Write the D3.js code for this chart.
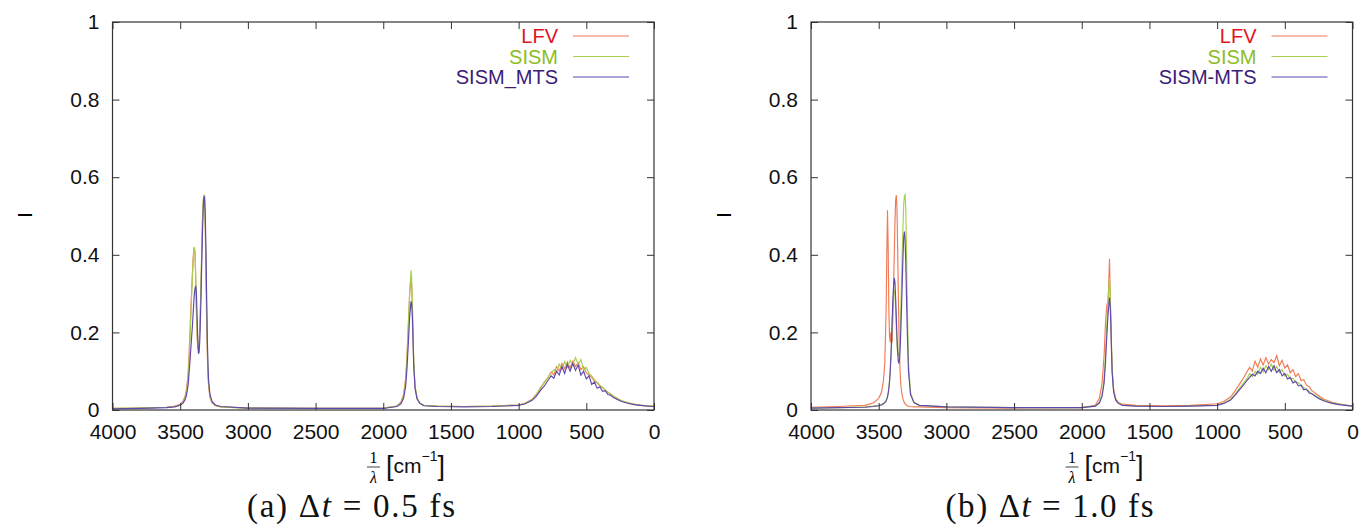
<!DOCTYPE html>
<html>
<head>
<meta charset="utf-8">
<script src="https://d3js.org/d3.v7.min.js"></script>
<style>
    body { margin: 0; background: #fff; }
    svg { display: block; font-family: "Liberation Sans", Arial, Helvetica, sans-serif; }
    .axis text { font-size: 21px; fill: #111; }
    .axis line { stroke: #333; }
    .axis path { display: none; }
</style>
</head>
<body>
<div id="vis"></div>
<script>
// wavenumber grid shared by all curves [cm^-1]
var wavenumbers = [
    4000, 3800, 3600, 3540, 3500, 3480, 3465, 3455, 3445, 3440,
    3435, 3430, 3425, 3420, 3415, 3410, 3405, 3400, 3395, 3390,
    3385, 3380, 3375, 3370, 3365, 3360, 3355, 3350, 3345, 3340,
    3335, 3330, 3325, 3320, 3315, 3310, 3305, 3300, 3295, 3290,
    3280, 3265, 3240, 3200, 3000, 2500, 2000, 1900, 1870, 1850,
    1835, 1825, 1815, 1805, 1795, 1790, 1785, 1780, 1775, 1765,
    1750, 1730, 1700, 1600, 1400, 1200, 1000, 950, 900, 870,
    840, 810, 780, 760, 740, 720, 700, 680, 660, 640,
    620, 600, 580, 560, 540, 520, 500, 480, 460, 440,
    420, 400, 380, 360, 340, 320, 300, 270, 240, 200,
    150, 100, 50, 0];

// (a) dt = 0.5 fs
var lfvA = [
    .004, .005, .007, .010, .015, .022, .035, .050, .080, .105,
    .140, .180, .225, .270, .310, .350, .385, .410, .420, .400,
    .330, .250, .190, .160, .155, .170, .210, .270, .340, .420,
    .490, .535, .553, .540, .470, .360, .240, .150, .090, .060,
    .032, .018, .011, .008, .005, .004, .005, .010, .020, .040,
    .080, .140, .220, .300, .345, .320, .260, .190, .120, .060,
    .030, .018, .012, .010, .009, .010, .013, .018, .028, .040,
    .055, .072, .085, .098, .090, .112, .100, .120, .106, .124,
    .108, .126, .112, .122, .104, .112, .096, .090, .084, .074,
    .070, .062, .058, .050, .046, .040, .035, .028, .024, .019,
    .015, .012, .011, .009];
var sismA = [
    .004, .005, .007, .009, .013, .019, .030, .042, .068, .090,
    .120, .160, .205, .250, .295, .340, .380, .415, .420, .405,
    .340, .260, .200, .165, .160, .175, .215, .275, .350, .425,
    .495, .540, .555, .545, .490, .390, .270, .170, .105, .068,
    .036, .020, .012, .008, .005, .004, .005, .010, .018, .036,
    .070, .125, .210, .300, .360, .340, .280, .200, .130, .062,
    .030, .018, .012, .010, .009, .010, .013, .017, .027, .038,
    .058, .070, .086, .094, .104, .098, .118, .106, .125, .110,
    .128, .116, .135, .118, .130, .102, .110, .094, .088, .078,
    .072, .064, .058, .052, .046, .042, .036, .030, .024, .020,
    .015, .013, .011, .010];
var mtsA = [
    .003, .004, .006, .008, .012, .017, .026, .036, .055, .070,
    .092, .115, .140, .165, .190, .215, .245, .275, .300, .315,
    .318, .300, .240, .180, .145, .150, .180, .240, .310, .390,
    .460, .520, .548, .550, .510, .420, .300, .190, .120, .075,
    .040, .022, .013, .009, .005, .004, .004, .009, .016, .030,
    .060, .105, .170, .240, .280, .275, .240, .180, .115, .055,
    .028, .017, .011, .009, .008, .009, .012, .016, .025, .035,
    .050, .062, .078, .088, .082, .100, .090, .112, .094, .118,
    .100, .120, .102, .116, .090, .100, .080, .088, .066, .072,
    .056, .060, .048, .050, .040, .038, .032, .027, .022, .018,
    .014, .012, .010, .009];

// (b) dt = 1.0 fs
var lfvB = [
    .007, .009, .012, .018, .030, .045, .075, .120, .260, .400,
    .515, .420, .260, .190, .175, .200, .170, .180, .240, .320,
    .400, .480, .540, .554, .520, .420, .300, .200, .130, .085,
    .060, .045, .035, .028, .023, .019, .016, .014, .012, .011,
    .010, .009, .008, .008, .006, .005, .006, .012, .030, .070,
    .140, .220, .270, .280, .390, .300, .230, .160, .100, .055,
    .030, .020, .015, .012, .011, .012, .016, .022, .034, .048,
    .064, .080, .098, .110, .100, .126, .110, .132, .116, .135,
    .118, .130, .122, .140, .114, .128, .108, .116, .096, .104,
    .086, .094, .076, .078, .064, .060, .050, .042, .034, .026,
    .020, .016, .013, .011];
var sismB = [
    .005, .006, .008, .010, .012, .014, .017, .020, .025, .030,
    .036, .045, .058, .075, .100, .135, .180, .230, .270, .300,
    .310, .300, .260, .210, .170, .145, .140, .150, .180, .220,
    .280, .350, .420, .480, .530, .552, .555, .520, .420, .300,
    .120, .045, .020, .012, .008, .006, .006, .010, .020, .040,
    .080, .140, .220, .290, .340, .300, .230, .160, .100, .050,
    .028, .018, .013, .010, .009, .010, .013, .018, .028, .040,
    .054, .068, .080, .094, .086, .100, .092, .110, .098, .114,
    .104, .118, .102, .112, .096, .104, .088, .092, .080, .082,
    .072, .070, .064, .058, .052, .048, .042, .036, .030, .024,
    .018, .015, .012, .010];
var mtsB = [
    .005, .006, .007, .009, .011, .013, .016, .019, .023, .028,
    .033, .042, .055, .072, .098, .135, .180, .235, .285, .320,
    .340, .330, .290, .240, .190, .150, .125, .120, .135, .170,
    .220, .280, .340, .400, .445, .460, .440, .380, .300, .220,
    .100, .040, .019, .012, .008, .006, .006, .010, .018, .035,
    .070, .120, .190, .250, .290, .270, .220, .150, .095, .048,
    .026, .017, .012, .010, .009, .010, .012, .017, .026, .037,
    .050, .062, .076, .084, .092, .088, .100, .094, .108, .096,
    .112, .100, .114, .096, .104, .088, .094, .080, .084, .070,
    .074, .062, .064, .052, .054, .044, .042, .034, .028, .022,
    .017, .014, .012, .010];

var xTicks = [4000, 3500, 3000, 2500, 2000, 1500, 1000, 500, 0];
var yTicks = [0, 0.2, 0.4, 0.6, 0.8, 1];
var legendNames = [["LFV", "SISM", "SISM_MTS"], ["LFV", "SISM", "SISM-MTS"]];
var captionTags = ["(a)", "(b)"];
var timeSteps = ["0.5", "1.0"];

var lineColors = ["#f07a55", "#a8d04e", "#6048ac"];
var textColors = ["#e0141b", "#8cbd25", "#3b1c78"];

var margin = { top: 22, left: 112.5 },
    width = 541.5,
    height = 388,
    panelShift = 698.5;

var svg = d3.select("#vis")
    .append("svg")
    .attr("width", 1364)
    .attr("height", 526);

var makePanel = function (p, curves) {
    var ox = p * panelShift;

    var xScale = d3.scaleLinear().domain([4000, 0]).range([0, width]);
    var yScale = d3.scaleLinear().domain([0, 1]).range([height, 0]);

    var canvas = svg.append("g")
        .attr("transform", "translate(" + (ox + margin.left) + "," + margin.top + ")");

    // curves, LFV first so SISM_MTS ends on top
    var line = d3.line()
        .x(function (d) { return xScale(d[0]); })
        .y(function (d) { return yScale(d[1]); });

    curves.forEach(function (vals, i) {
        canvas.append("path")
            .datum(wavenumbers.map(function (w, k) { return [w, vals[k]]; }))
            .attr("fill", "none")
            .style("stroke", lineColors[i])
            .style("stroke-width", 1.15)
            .attr("d", line);
    });

    // ticks point inward on all four sides (gnuplot style)
    canvas.append("g")
        .attr("class", "axis")
        .attr("transform", "translate(0," + height + ")")
        .call(d3.axisBottom(xScale).tickValues(xTicks).tickSize(-7).tickPadding(14)
            .tickFormat(d3.format("d")));
    canvas.append("g")
        .attr("class", "axis")
        .call(d3.axisTop(xScale).tickValues(xTicks).tickSize(-7).tickFormat(""));
    canvas.append("g")
        .attr("class", "axis")
        .call(d3.axisLeft(yScale).tickValues(yTicks).tickSize(-7).tickPadding(13)
            .tickFormat(d3.format("~g")));
    canvas.append("g")
        .attr("class", "axis")
        .attr("transform", "translate(" + width + ",0)")
        .call(d3.axisRight(yScale).tickValues(yTicks).tickSize(-7).tickFormat(""));

    canvas.append("rect")
        .attr("width", width)
        .attr("height", height)
        .attr("fill", "none")
        .attr("stroke", "#333")
        .attr("stroke-width", 1.2);

    // legend
    legendNames[p].forEach(function (name, i) {
        var by = 21 + i * 20.5;
        canvas.append("text")
            .attr("x", 445.5)
            .attr("y", by)
            .attr("text-anchor", "end")
            .style("font-size", "20px")
            .style("fill", textColors[i])
            .text(name);
        canvas.append("path")
            .attr("d", "M460.5," + (by - 7) + "H516.5")
            .style("fill", "none")
            .style("stroke", lineColors[i])
            .style("stroke-width", 1.2);
    });

    // y label (rotated I)
    svg.append("text")
        .attr("transform", "translate(" + (ox + 25) + ",215) rotate(-90)")
        .attr("text-anchor", "middle")
        .attr("dy", "0.35em")
        .style("font-size", "21px")
        .text("I");

    // x label: 1/lambda [cm^-1]
    var xl = svg.append("g").attr("transform", "translate(" + ox + ",0)");
    xl.append("text")
        .attr("x", 373.5).attr("y", 463)
        .attr("text-anchor", "middle")
        .style("font-family", "'Liberation Serif', serif")
        .style("font-size", "16px")
        .text("1");
    xl.append("line")
        .attr("x1", 367).attr("x2", 380)
        .attr("y1", 467).attr("y2", 467)
        .attr("stroke", "#111").attr("stroke-width", 0.8);
    xl.append("text")
        .attr("x", 373.5).attr("y", 483)
        .attr("text-anchor", "middle")
        .style("font-family", "'Liberation Serif', serif")
        .style("font-style", "italic")
        .style("font-size", "16px")
        .text("λ");
    var unit = xl.append("text")
        .attr("x", 386).attr("y", 475)
        .style("fill", "#111");
    unit.append("tspan").style("font-size", "27px").text("[");
    unit.append("tspan").style("font-size", "21px").attr("dy", -2).text("cm");
    unit.append("tspan").style("font-size", "14px").attr("dy", -12).text("−1");
    unit.append("tspan").style("font-size", "27px").attr("dy", 14).text("]");

    // caption
    var cap = svg.append("text")
        .attr("x", ox + 351)
        .attr("y", 517)
        .attr("text-anchor", "middle")
        .attr("textLength", 208)
        .attr("lengthAdjust", "spacing")
        .style("font-family", "'Liberation Serif', 'DejaVu Serif', serif")
        .style("font-size", "33px")
        .style("fill", "#111");
    cap.append("tspan").text(captionTags[p] + " Δ");
    cap.append("tspan").style("font-style", "italic").text("t");
    cap.append("tspan").text(" = " + timeSteps[p] + " fs");
};

makePanel(0, [lfvA, sismA, mtsA]);
makePanel(1, [lfvB, sismB, mtsB]);
</script>
</body>
</html>
